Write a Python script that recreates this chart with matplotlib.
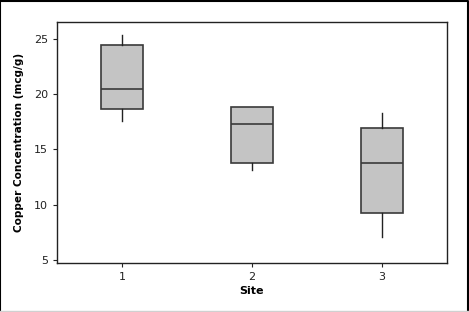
import matplotlib
matplotlib.use('Agg')
import matplotlib.pyplot as plt
from matplotlib.lines import Line2D

# Box plot summary values
sites = [1, 2, 3]
whisker_low = [17.6, 13.1, 7.1]
q1 = [18.7, 13.8, 9.2]
median = [20.5, 17.3, 13.8]
q3 = [24.45, 18.8, 16.9]
whisker_high = [25.4, 18.8, 18.3]

stats = []
for i in range(len(sites)):
    stats.append({'whislo': whisker_low[i], 'q1': q1[i], 'med': median[i],
                  'q3': q3[i], 'whishi': whisker_high[i], 'fliers': [],
                  'label': str(sites[i])})

fig = plt.figure(figsize=(4.69, 3.12), dpi=100)
ax = fig.add_axes([57 / 469, 1 - 263 / 312, (447 - 57) / 469, (263 - 22) / 312])

ax.bxp(stats, positions=sites, widths=0.33, showcaps=False, patch_artist=True,
       boxprops=dict(facecolor='#c4c4c4', edgecolor='#3a3a3a', linewidth=1.2),
       medianprops=dict(color='#3a3a3a', linewidth=1.2),
       whiskerprops=dict(color='#222222', linewidth=1.0))

ax.set_xlim(0.5, 3.5)
ax.set_ylim(4.7, 26.55)
ax.set_yticks([5, 10, 15, 20, 25])
ax.set_xticks(sites)
ax.set_xticklabels([str(s) for s in sites])
ax.tick_params(labelsize=8, length=3, colors='#222222')
ax.set_xlabel('Site', fontsize=8, fontweight='bold', labelpad=3)
ax.set_ylabel('Copper Concentration (mcg/g)', fontsize=7.6, fontweight='bold', labelpad=7)
for s in ax.spines.values():
    s.set_linewidth(1.0)
    s.set_color('#222222')

# outer frame: black on left, top, right; light grey at bottom
fig.lines.append(Line2D([0.001, 0.001, 0.998, 0.998], [0.005, 0.998, 0.998, 0.005],
                        transform=fig.transFigure, color='black', linewidth=1.5))
fig.lines.append(Line2D([0, 1], [0.004, 0.004], transform=fig.transFigure,
                        color='#d0d0d0', linewidth=1.0))

fig.savefig('out.png', dpi=100)
